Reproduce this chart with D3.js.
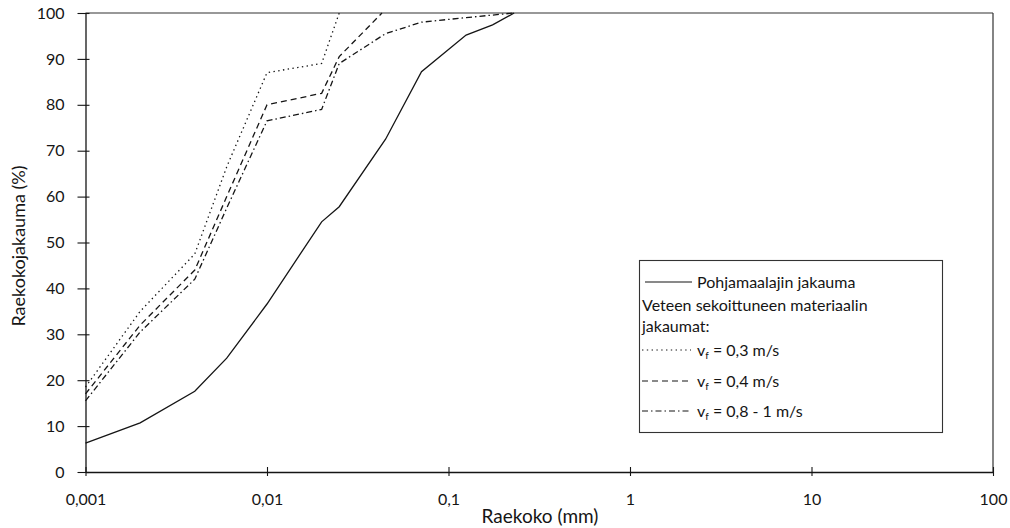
<!DOCTYPE html>
<html>
<head>
<meta charset="utf-8">
<script src="https://cdn.jsdelivr.net/npm/d3@7"></script>
<style>
  html, body { margin: 0; padding: 0; background: #fff; }
  svg { display: block; font-family: Lato, "Open Sans", sans-serif; }
</style>
</head>
<body>
<svg id="chart" width="1010" height="528"></svg>
<script>
// Grain size (mm) and cumulative share (%) for each distribution
const baseSize   = [0.001, 0.002, 0.004, 0.006, 0.01, 0.02, 0.025, 0.045, 0.071, 0.125, 0.175, 0.23];
const baseValue  = [6.3, 10.7, 17.6, 24.8, 36.6, 54.5, 57.8, 72.5, 87.2, 95.2, 97.4, 100];

const v03Size    = [0.001, 0.002, 0.004, 0.006, 0.01, 0.02, 0.025];
const v03Value   = [18.5, 35, 47.5, 66.5, 87, 89, 100];

const v04Size    = [0.001, 0.002, 0.004, 0.006, 0.01, 0.02, 0.025, 0.043];
const v04Value   = [17, 32, 44, 60, 80, 82.5, 90.5, 100];

const v08Size    = [0.001, 0.002, 0.004, 0.006, 0.01, 0.02, 0.025, 0.045, 0.071, 0.125, 0.23];
const v08Value   = [15.5, 30.5, 42, 57.5, 76.5, 79, 89, 95.5, 98, 99, 100];

const xTicks      = [0.001, 0.01, 0.1, 1, 10, 100];
const xTickLabels = ["0,001", "0,01", "0,1", "1", "10", "100"];
const yTicks      = [0, 10, 20, 30, 40, 50, 60, 70, 80, 90, 100];

const svg = d3.select("#chart");
const ink = "#151515";

const x = d3.scaleLog().domain([0.001, 100]).range([85.5, 993]);
const y = d3.scaleLinear().domain([0, 100]).range([472, 13]);

// Plot frame: top and right edges
svg.append("line").attr("x1", x(0.001)).attr("x2", x(100))
  .attr("y1", y(100)).attr("y2", y(100))
  .attr("stroke", "#333").attr("stroke-width", 1.2);
svg.append("line").attr("x1", x(100)).attr("x2", x(100))
  .attr("y1", y(100)).attr("y2", y(0))
  .attr("stroke", "#333").attr("stroke-width", 1.2);

// X axis
const xAxis = svg.append("g")
  .attr("transform", `translate(0,${y(0)})`)
  .call(d3.axisBottom(x).tickValues(xTicks)
    .tickFormat((d, i) => xTickLabels[i]).tickSizeOuter(0));
xAxis.select(".domain").attr("stroke", ink).attr("stroke-width", 1.3);
xAxis.selectAll(".tick line").attr("y1", -5).attr("y2", 4)
  .attr("stroke", ink).attr("stroke-width", 1.1);
xAxis.selectAll(".tick text").attr("y", 22)
  .attr("font-size", 16).attr("fill", ink).attr("font-family", "Lato, sans-serif");

// Y axis
const yAxis = svg.append("g")
  .attr("transform", `translate(${x(0.001)},0)`)
  .call(d3.axisLeft(y).tickValues(yTicks).tickSizeOuter(0));
yAxis.select(".domain").attr("stroke", ink).attr("stroke-width", 1.3);
yAxis.selectAll(".tick line").attr("x1", -8).attr("x2", 4)
  .attr("stroke", ink).attr("stroke-width", 1.1);
yAxis.selectAll(".tick text").attr("x", -21)
  .attr("font-size", 16).attr("fill", ink).attr("font-family", "Lato, sans-serif");

// Axis titles
svg.append("text").attr("x", 540).attr("y", 523)
  .attr("text-anchor", "middle").attr("font-size", 19).attr("fill", ink)
  .text("Raekoko (mm)");
svg.append("text")
  .attr("transform", `translate(25,${246}) rotate(-90)`)
  .attr("text-anchor", "middle").attr("font-size", 18).attr("fill", ink)
  .text("Raekokojakauma (%)");

// Distribution curves
const series = [
  { sizes: baseSize, values: baseValue, dash: null },
  { sizes: v03Size,  values: v03Value,  dash: "1.4,3.4" },
  { sizes: v04Size,  values: v04Value,  dash: "6,4" },
  { sizes: v08Size,  values: v08Value,  dash: "6,3,1.5,3" }
];
const line = d3.line().x(d => x(d[0])).y(d => y(d[1]));
series.forEach(s => {
  svg.append("path")
    .datum(s.sizes.map((d, i) => [d, s.values[i]]))
    .attr("d", line)
    .attr("fill", "none")
    .attr("stroke", ink)
    .attr("stroke-width", 1.3)
    .attr("stroke-dasharray", s.dash);
});

// Legend
const lg = svg.append("g");
lg.append("rect").attr("x", 639.5).attr("y", 260.5).attr("width", 303).attr("height", 172)
  .attr("fill", "#fff").attr("stroke", "#333").attr("stroke-width", 1.1);

const legendFont = 16;
lg.append("line").attr("x1", 645).attr("x2", 692).attr("y1", 282).attr("y2", 282)
  .attr("stroke", ink).attr("stroke-width", 1.2);
lg.append("text").attr("x", 697).attr("y", 287.5).attr("font-size", legendFont)
  .attr("fill", ink).text("Pohjamaalajin jakauma");
lg.append("text").attr("x", 642).attr("y", 310.5).attr("font-size", legendFont)
  .attr("fill", ink).text("Veteen sekoittuneen materiaalin");
lg.append("text").attr("x", 642).attr("y", 332).attr("font-size", legendFont)
  .attr("fill", ink).text("jakaumat:");

const legendRows = [
  { cy: 350, dash: "1.4,3.4", label: " = 0,3 m/s" },
  { cy: 381, dash: "6,4",     label: " = 0,4 m/s" },
  { cy: 411, dash: "6,3,1.5,3", label: " = 0,8 - 1 m/s" }
];
legendRows.forEach(r => {
  lg.append("line").attr("x1", 642).attr("x2", 691).attr("y1", r.cy).attr("y2", r.cy)
    .attr("stroke", ink).attr("stroke-width", 1.2).attr("stroke-dasharray", r.dash);
  const t = lg.append("text").attr("x", 697).attr("y", r.cy + 5.5)
    .attr("font-size", legendFont).attr("fill", ink);
  t.append("tspan").text("v");
  t.append("tspan").attr("font-size", 10).attr("dy", 3).text("f");
  t.append("tspan").attr("dy", -3).text(r.label);
});
</script>
</body>
</html>
